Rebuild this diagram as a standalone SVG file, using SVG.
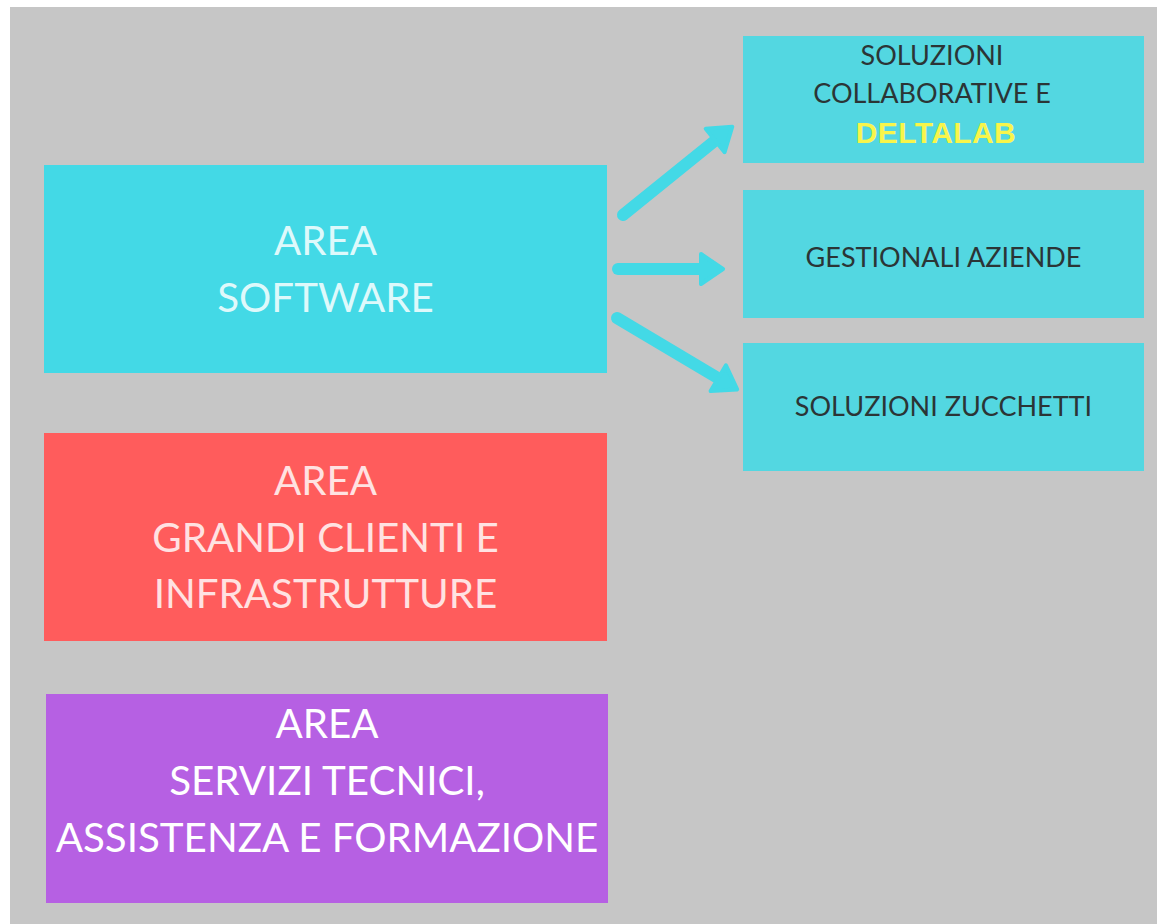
<svg xmlns="http://www.w3.org/2000/svg" width="1157" height="924" viewBox="0 0 1157 924">
  <style>
    .big { font-family: Lato, "Liberation Sans", sans-serif; font-size: 40.3px; text-anchor: middle; }
    .small { font-family: Lato, "Liberation Sans", sans-serif; font-size: 27px; text-anchor: middle; fill: #2b3536; }
    .brand { font-family: "Liberation Sans", Arial, sans-serif; font-weight: bold; font-size: 30px; letter-spacing: 0.4px; text-anchor: middle; fill: #f8f54a; }
    .conn { stroke: #43d9e6; stroke-width: 12; stroke-linecap: round; fill: none; }
    .sub { fill: #53d7e1; }
  </style>
  <defs>
    <marker id="head" viewBox="-3 -19 32 38" refX="7" refY="0" markerWidth="32" markerHeight="38" markerUnits="userSpaceOnUse" orient="auto">
      <path d="M0,-15 L22,0 L0,15 Z" fill="#43d9e6" stroke="#43d9e6" stroke-width="4" stroke-linejoin="round"/>
    </marker>
  </defs>
  <rect x="0" y="0" width="1157" height="924" fill="#ffffff"/>
  <rect x="10" y="7" width="1147" height="917" fill="#c6c6c6"/>

  <g id="area-software">
    <rect x="44" y="165" width="563" height="208" fill="#43d9e6"/>
    <text class="big" fill="#def9fb" x="325.5" y="255">AREA</text>
    <text class="big" fill="#def9fb" x="325.5" y="312">SOFTWARE</text>
  </g>

  <g id="area-grandi-clienti">
    <rect x="44" y="433" width="563" height="208" fill="#ff5c5c"/>
    <text class="big" fill="#ffe2e2" x="325.5" y="495">AREA</text>
    <text class="big" fill="#ffe2e2" x="325.5" y="552">GRANDI CLIENTI E</text>
    <text class="big" fill="#ffe2e2" x="325.5" y="608">INFRASTRUTTURE</text>
  </g>

  <g id="area-servizi">
    <rect x="46" y="694" width="562" height="209" fill="#b660e3"/>
    <text class="big" fill="#ffffff" x="327" y="738">AREA</text>
    <text class="big" fill="#ffffff" x="327" y="795">SERVIZI TECNICI,</text>
    <text class="big" fill="#ffffff" x="327" y="852">ASSISTENZA E FORMAZIONE</text>
  </g>

  <g id="soluzioni-collaborative">
    <rect class="sub" x="743" y="36" width="401" height="127"/>
    <text class="small" x="932" y="65">SOLUZIONI</text>
    <text class="small" x="932" y="103">COLLABORATIVE E</text>
    <text class="brand" x="936" y="143">DELTALAB</text>
  </g>

  <g id="gestionali-aziende">
    <rect class="sub" x="743" y="190" width="401" height="128"/>
    <text class="small" x="943.5" y="267">GESTIONALI AZIENDE</text>
  </g>

  <g id="soluzioni-zucchetti">
    <rect class="sub" x="743" y="343" width="401" height="128"/>
    <text class="small" x="943.5" y="416">SOLUZIONI ZUCCHETTI</text>
  </g>

  <g id="connectors">
    <line class="conn" x1="623" y1="215" x2="720.6" y2="136.1" marker-end="url(#head)"/>
    <line class="conn" x1="618" y1="269" x2="708" y2="269" marker-end="url(#head)"/>
    <line class="conn" x1="617" y1="318" x2="724.3" y2="381.8" marker-end="url(#head)"/>
  </g>
</svg>
